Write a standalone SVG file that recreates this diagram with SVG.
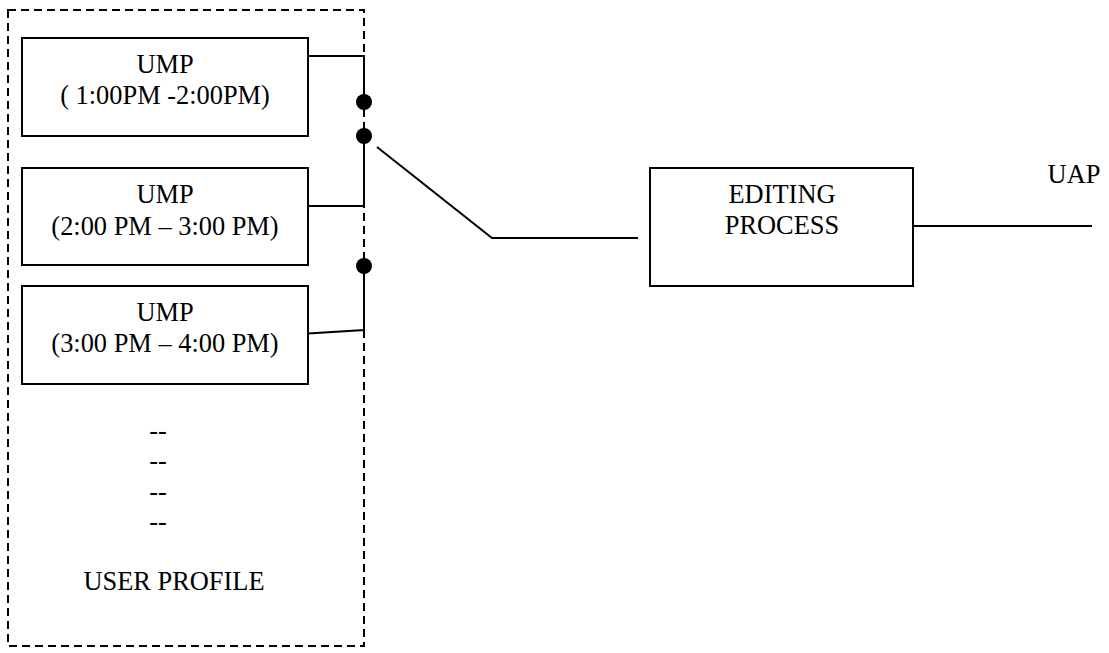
<svg xmlns="http://www.w3.org/2000/svg" width="1109" height="653" viewBox="0 0 1109 653">
<style>
.box{fill:#fff;stroke:#000;stroke-width:2}
.dash{fill:none;stroke:#000;stroke-width:2;stroke-dasharray:8 5}
.ln{fill:none;stroke:#000;stroke-width:2}
.dot{fill:#000}
text{font-family:"Liberation Serif","Times New Roman",serif;font-size:26.4px;fill:#000;text-anchor:middle}
</style>
<rect width="1109" height="653" fill="#fff"/>
<g id="user-profile">
<rect class="dash" x="8" y="10" width="356" height="636"/>
<text x="158" y="439">--</text>
<text x="158" y="469">--</text>
<text x="158" y="500">--</text>
<text x="158" y="530">--</text>
<text x="174" y="590">USER PROFILE</text>
</g>
<g id="ump1">
<rect class="box" x="22" y="38" width="286" height="98"/>
<text x="165" y="73">UMP</text>
<text x="165" y="104">( 1:00PM -2:00PM)</text>
</g>
<g id="ump2">
<rect class="box" x="22" y="168" width="286" height="97"/>
<text x="165" y="203">UMP</text>
<text x="165" y="235">(2:00 PM – 3:00 PM)</text>
</g>
<g id="ump3">
<rect class="box" x="22" y="286" width="286" height="98"/>
<text x="165" y="321">UMP</text>
<text x="165" y="352">(3:00 PM – 4:00 PM)</text>
</g>
<g id="editing">
<rect class="box" x="650" y="168" width="263" height="118"/>
<text x="782" y="203">EDITING</text>
<text x="782" y="234">PROCESS</text>
</g>
<g id="uap">
<text x="1074" y="183">UAP</text>
</g>
<g id="connectors">
<polyline class="ln" points="308,56 364,56 364,102"/>
<polyline class="ln" points="308,206 364,206 364,136"/>
<polyline class="ln" points="308,333.5 364,330 364,266"/>
<polyline class="ln" points="377,147 492,238 638,238"/>
<line class="ln" x1="913" y1="226" x2="1092" y2="226"/>
<circle class="dot" cx="364" cy="102" r="8"/>
<circle class="dot" cx="364" cy="136" r="8"/>
<circle class="dot" cx="364" cy="266" r="8"/>
</g>
</svg>
